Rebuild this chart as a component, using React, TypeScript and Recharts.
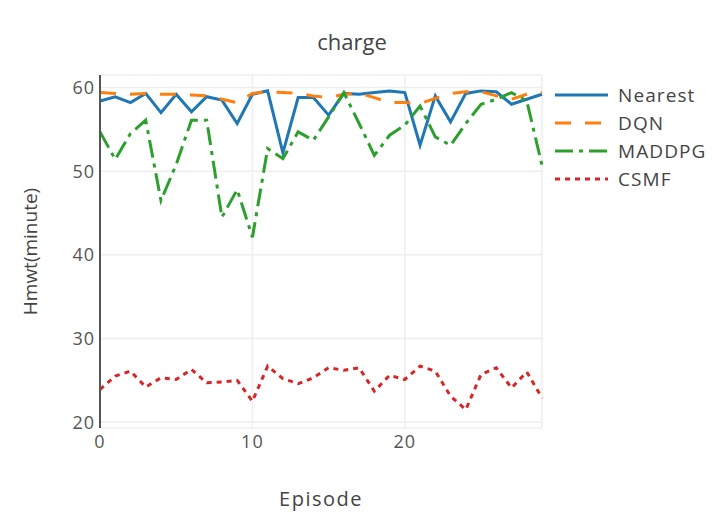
import { LineChart, Line, XAxis, YAxis, CartesianGrid } from "recharts";

const episodes = [0,1,2,3,4,5,6,7,8,9,10,11,12,13,14,15,16,17,18,19,20,21,22,23,24,25,26,27,28,29];
const nearest = [58.4,58.9,58.2,59.3,57.0,59.2,57.1,58.9,58.5,55.7,59.2,59.6,52.2,58.8,58.8,56.7,59.3,59.2,59.4,59.6,59.4,53.1,59.0,55.9,59.3,59.6,59.5,58.0,58.6,59.2];
const dqn = [59.4,59.3,59.2,59.3,59.2,59.2,59.1,59.0,58.6,58.2,59.3,59.5,59.4,59.3,59.0,58.8,59.2,59.3,58.8,58.2,58.2,58.1,58.7,59.3,59.5,59.5,59.0,58.6,59.2,59.4];
const maddpg = [54.7,51.4,54.5,56.1,46.5,50.8,56.1,56.1,44.5,47.8,42.1,52.7,51.5,54.7,53.7,56.5,59.4,55.7,51.9,54.3,55.5,57.8,54.1,53.1,55.7,58.0,58.6,59.4,58.4,50.7];
const csmf = [23.9,25.5,26.1,24.2,25.3,25.1,26.3,24.7,24.8,25.0,22.5,26.7,25.2,24.6,25.3,26.5,26.2,26.5,23.7,25.6,25.1,26.7,26.1,23.1,21.5,25.7,26.5,24.1,26.0,22.9];
const xTicks = [0, 10, 20];
const yTicks = [20, 30, 40, 50, 60];

const series = [
  { key: "Nearest", color: "#1f77b4", dash: undefined as string | undefined },
  { key: "DQN", color: "#ff7f0e", dash: "16 14" },
  { key: "MADDPG", color: "#2ca02c", dash: "18 6 4 6" },
  { key: "CSMF", color: "#d62728", dash: "5 5" },
];

const data = episodes.map((e, i) => ({
  episode: e,
  Nearest: nearest[i],
  DQN: dqn[i],
  MADDPG: maddpg[i],
  CSMF: csmf[i],
}));

const font = "'Open Sans', sans-serif";

function LegendBox() {
  return (
    <div style={{ position: "absolute", left: 553, top: 81, fontFamily: font, fontSize: 19, letterSpacing: 1.1, color: "#444" }}>
      {series.map(s => (
        <div key={s.key} style={{ display: "flex", alignItems: "center", height: 28 }}>
          <svg width={65} height={10}>
            <line x1={2} y1={5} x2={55} y2={5} stroke={s.color} strokeWidth={3} strokeDasharray={s.dash} />
          </svg>
          <span>{s.key}</span>
        </div>
      ))}
    </div>
  );
}

export default function App() {
  return (
    <div style={{ position: "absolute", left: 0, top: 0, width: 712, height: 514, background: "#fff" }}>
      <div style={{ position: "absolute", left: 0, width: 704, top: 26, textAlign: "center", fontFamily: font, fontSize: 22, color: "#444" }}>
        charge
      </div>
      <LineChart width={712} height={514} data={data} margin={{ top: 75, right: 170, bottom: 0, left: 0 }}>
        <CartesianGrid stroke="#eee" strokeWidth={1.5} />
        <XAxis
          dataKey="episode"
          type="number"
          domain={[0, 29]}
          ticks={xTicks}
          axisLine={false}
          tickLine={false}
          tickSize={0}
          tickMargin={7}
          height={86}
          tick={{ fontSize: 18, fill: "#555", fontFamily: font, letterSpacing: 1 }}
          label={{ value: "Episode", position: "insideBottom", offset: 8, style: { fontSize: 20, fill: "#444", fontFamily: font, letterSpacing: 1.5 } }}
        />
        <YAxis
          type="number"
          domain={[19.3, 61.5]}
          ticks={yTicks}
          axisLine={{ stroke: "#555", strokeWidth: 2 }}
          tickLine={false}
          tickSize={0}
          tickMargin={5}
          width={100}
          tick={{ fontSize: 18, fill: "#555", fontFamily: font, letterSpacing: 1 }}
          label={{ value: "Hmwt(minute)", angle: -90, position: "insideLeft", offset: 30, style: { fontSize: 19, fill: "#444", fontFamily: font, textAnchor: "middle" } }}
        />
        {series.map(s => (
          <Line
            key={s.key}
            dataKey={s.key}
            stroke={s.color}
            strokeWidth={3}
            strokeDasharray={s.dash}
            dot={false}
            isAnimationActive={false}
            type="linear"
          />
        ))}
      </LineChart>
      <LegendBox />
    </div>
  );
}
